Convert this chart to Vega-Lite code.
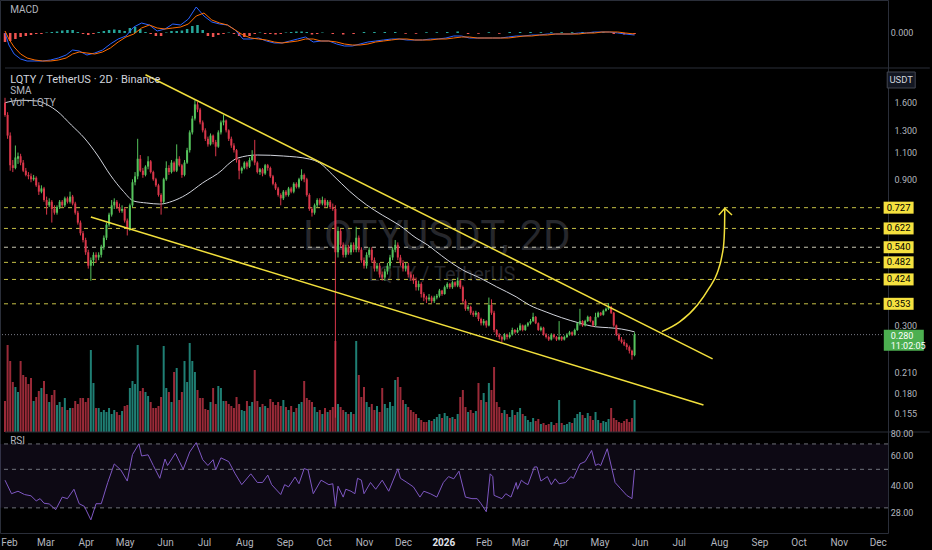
{
  "$schema": "https://vega.github.io/schema/vega-lite/v6.json",
  "width": 888,
  "height": 533,
  "autosize": {"type": "none"},
  "padding": {"left": 0, "top": 0, "right": 44, "bottom": 17},
  "background": "#000000",
  "config": {
    "font": "Roboto",
    "view": {"stroke": "#2a2e39"},
    "axis": {"grid": false},
    "axisX": {
      "tickCount": {"interval": "month", "step": 1},
      "labelExpr": "month(datum.value) == 0 ? timeFormat(datum.value, '%Y') : timeFormat(datum.value, '%b')",
      "labelColor": {"condition": {"test": "month(datum.value) == 0", "value": "#e0e3eb"}, "value": "#b2b5be"},
      "labelFontWeight": {"condition": {"test": "month(datum.value) == 0", "value": "bold"}, "value": "normal"},
      "labelFontSize": 10,
      "labelAlign": "center",
      "ticks": false,
      "domain": false,
      "labelPadding": 4,
      "labelOverlap": false,
      "labelFlush": false,
      "labelBound": false,
      "title": null
    }
  },
  "datasets": {
    "one": [{}],
    "candles": [
      {"d":"2025-01-29","o":1.60,"h":1.66,"l":1.44,"c":1.46,"v":31},
      {"d":"2025-01-31","o":1.46,"h":1.49,"l":1.22,"c":1.25,"v":87},
      {"d":"2025-02-02","o":1.25,"h":1.28,"l":0.96,"c":1.00,"v":71},
      {"d":"2025-02-04","o":1.00,"h":1.04,"l":0.95,"c":0.98,"v":50},
      {"d":"2025-02-06","o":0.98,"h":1.16,"l":0.97,"c":1.06,"v":45},
      {"d":"2025-02-08","o":1.05,"h":1.10,"l":1.01,"c":1.07,"v":40},
      {"d":"2025-02-10","o":1.07,"h":1.09,"l":1.00,"c":1.02,"v":71},
      {"d":"2025-02-12","o":1.02,"h":1.04,"l":0.95,"c":0.96,"v":57},
      {"d":"2025-02-14","o":0.96,"h":0.98,"l":0.92,"c":0.93,"v":55},
      {"d":"2025-02-16","o":0.93,"h":0.95,"l":0.90,"c":0.92,"v":48},
      {"d":"2025-02-18","o":0.92,"h":0.94,"l":0.88,"c":0.90,"v":54},
      {"d":"2025-02-20","o":0.90,"h":0.93,"l":0.89,"c":0.91,"v":31},
      {"d":"2025-02-22","o":0.91,"h":0.92,"l":0.85,"c":0.86,"v":35},
      {"d":"2025-02-24","o":0.86,"h":0.88,"l":0.80,"c":0.82,"v":41},
      {"d":"2025-02-26","o":0.82,"h":0.86,"l":0.81,"c":0.84,"v":44},
      {"d":"2025-02-28","o":0.84,"h":0.85,"l":0.76,"c":0.77,"v":51},
      {"d":"2025-03-02","o":0.77,"h":0.79,"l":0.69,"c":0.74,"v":38},
      {"d":"2025-03-04","o":0.74,"h":0.78,"l":0.73,"c":0.76,"v":30},
      {"d":"2025-03-06","o":0.76,"h":0.77,"l":0.65,"c":0.72,"v":37},
      {"d":"2025-03-08","o":0.72,"h":0.74,"l":0.69,"c":0.70,"v":42},
      {"d":"2025-03-10","o":0.70,"h":0.74,"l":0.69,"c":0.73,"v":27},
      {"d":"2025-03-12","o":0.73,"h":0.77,"l":0.72,"c":0.76,"v":30},
      {"d":"2025-03-14","o":0.76,"h":0.77,"l":0.73,"c":0.74,"v":25},
      {"d":"2025-03-16","o":0.74,"h":0.79,"l":0.73,"c":0.78,"v":34},
      {"d":"2025-03-18","o":0.78,"h":0.79,"l":0.75,"c":0.76,"v":22},
      {"d":"2025-03-20","o":0.76,"h":0.82,"l":0.75,"c":0.79,"v":24},
      {"d":"2025-03-22","o":0.79,"h":0.80,"l":0.74,"c":0.75,"v":24},
      {"d":"2025-03-24","o":0.75,"h":0.76,"l":0.69,"c":0.70,"v":31},
      {"d":"2025-03-26","o":0.70,"h":0.71,"l":0.64,"c":0.65,"v":28},
      {"d":"2025-03-28","o":0.65,"h":0.66,"l":0.59,"c":0.60,"v":34},
      {"d":"2025-03-30","o":0.60,"h":0.61,"l":0.56,"c":0.57,"v":34},
      {"d":"2025-04-01","o":0.57,"h":0.58,"l":0.51,"c":0.52,"v":30},
      {"d":"2025-04-03","o":0.52,"h":0.53,"l":0.46,"c":0.47,"v":34},
      {"d":"2025-04-05","o":0.47,"h":0.50,"l":0.42,"c":0.49,"v":82},
      {"d":"2025-04-07","o":0.49,"h":0.52,"l":0.47,"c":0.51,"v":49},
      {"d":"2025-04-09","o":0.51,"h":0.52,"l":0.48,"c":0.50,"v":24},
      {"d":"2025-04-11","o":0.50,"h":0.52,"l":0.49,"c":0.51,"v":24},
      {"d":"2025-04-13","o":0.51,"h":0.55,"l":0.50,"c":0.54,"v":20},
      {"d":"2025-04-15","o":0.54,"h":0.59,"l":0.53,"c":0.58,"v":22},
      {"d":"2025-04-17","o":0.58,"h":0.65,"l":0.57,"c":0.64,"v":20},
      {"d":"2025-04-19","o":0.64,"h":0.70,"l":0.63,"c":0.69,"v":24},
      {"d":"2025-04-21","o":0.69,"h":0.77,"l":0.68,"c":0.74,"v":18},
      {"d":"2025-04-23","o":0.74,"h":0.78,"l":0.72,"c":0.76,"v":22},
      {"d":"2025-04-25","o":0.76,"h":0.77,"l":0.72,"c":0.73,"v":20},
      {"d":"2025-04-27","o":0.73,"h":0.75,"l":0.70,"c":0.71,"v":17},
      {"d":"2025-04-29","o":0.71,"h":0.74,"l":0.70,"c":0.72,"v":21},
      {"d":"2025-05-01","o":0.72,"h":0.73,"l":0.65,"c":0.66,"v":26},
      {"d":"2025-05-03","o":0.66,"h":0.67,"l":0.59,"c":0.62,"v":27},
      {"d":"2025-05-05","o":0.62,"h":0.75,"l":0.61,"c":0.74,"v":44},
      {"d":"2025-05-07","o":0.74,"h":0.90,"l":0.73,"c":0.88,"v":51},
      {"d":"2025-05-09","o":0.88,"h":0.95,"l":0.86,"c":0.92,"v":48},
      {"d":"2025-05-11","o":0.92,"h":1.22,"l":0.90,"c":1.05,"v":87},
      {"d":"2025-05-13","o":1.05,"h":1.08,"l":0.95,"c":0.96,"v":41},
      {"d":"2025-05-15","o":0.96,"h":0.98,"l":0.91,"c":0.93,"v":44},
      {"d":"2025-05-17","o":0.93,"h":1.00,"l":0.92,"c":0.99,"v":40},
      {"d":"2025-05-19","o":0.99,"h":1.07,"l":0.97,"c":1.03,"v":36},
      {"d":"2025-05-21","o":1.03,"h":1.04,"l":0.94,"c":0.95,"v":30},
      {"d":"2025-05-23","o":0.95,"h":0.96,"l":0.89,"c":0.90,"v":24},
      {"d":"2025-05-25","o":0.90,"h":0.91,"l":0.85,"c":0.86,"v":24},
      {"d":"2025-05-27","o":0.86,"h":0.87,"l":0.79,"c":0.80,"v":26},
      {"d":"2025-05-29","o":0.80,"h":0.81,"l":0.69,"c":0.76,"v":35},
      {"d":"2025-05-31","o":0.76,"h":0.91,"l":0.75,"c":0.90,"v":86},
      {"d":"2025-06-02","o":0.90,"h":1.03,"l":0.89,"c":0.98,"v":44},
      {"d":"2025-06-04","o":0.98,"h":1.00,"l":0.93,"c":0.95,"v":40},
      {"d":"2025-06-06","o":0.95,"h":1.04,"l":0.94,"c":1.02,"v":30},
      {"d":"2025-06-08","o":1.02,"h":1.03,"l":0.95,"c":0.96,"v":60},
      {"d":"2025-06-10","o":0.96,"h":1.17,"l":0.95,"c":1.05,"v":64},
      {"d":"2025-06-12","o":1.05,"h":1.07,"l":0.99,"c":1.00,"v":32},
      {"d":"2025-06-14","o":1.00,"h":1.01,"l":0.91,"c":0.93,"v":40},
      {"d":"2025-06-16","o":0.93,"h":1.04,"l":0.92,"c":1.02,"v":71},
      {"d":"2025-06-18","o":1.02,"h":1.14,"l":1.01,"c":1.12,"v":50},
      {"d":"2025-06-20","o":1.12,"h":1.30,"l":1.10,"c":1.28,"v":89},
      {"d":"2025-06-22","o":1.28,"h":1.45,"l":1.26,"c":1.42,"v":71},
      {"d":"2025-06-24","o":1.42,"h":1.63,"l":1.40,"c":1.58,"v":60},
      {"d":"2025-06-26","o":1.58,"h":1.61,"l":1.49,"c":1.52,"v":42},
      {"d":"2025-06-28","o":1.52,"h":1.54,"l":1.36,"c":1.38,"v":34},
      {"d":"2025-06-30","o":1.38,"h":1.40,"l":1.28,"c":1.30,"v":34},
      {"d":"2025-07-02","o":1.30,"h":1.32,"l":1.20,"c":1.22,"v":23},
      {"d":"2025-07-04","o":1.22,"h":1.24,"l":1.15,"c":1.17,"v":22},
      {"d":"2025-07-06","o":1.17,"h":1.27,"l":1.16,"c":1.25,"v":30},
      {"d":"2025-07-08","o":1.25,"h":1.26,"l":1.17,"c":1.19,"v":44},
      {"d":"2025-07-10","o":1.19,"h":1.21,"l":1.07,"c":1.15,"v":28},
      {"d":"2025-07-12","o":1.15,"h":1.30,"l":1.14,"c":1.28,"v":46},
      {"d":"2025-07-14","o":1.28,"h":1.40,"l":1.26,"c":1.38,"v":44},
      {"d":"2025-07-16","o":1.38,"h":1.46,"l":1.35,"c":1.40,"v":31},
      {"d":"2025-07-18","o":1.40,"h":1.41,"l":1.28,"c":1.30,"v":31},
      {"d":"2025-07-20","o":1.30,"h":1.31,"l":1.20,"c":1.22,"v":28},
      {"d":"2025-07-22","o":1.22,"h":1.24,"l":1.14,"c":1.16,"v":26},
      {"d":"2025-07-24","o":1.16,"h":1.18,"l":1.10,"c":1.12,"v":24},
      {"d":"2025-07-26","o":1.12,"h":1.13,"l":1.02,"c":1.04,"v":35},
      {"d":"2025-07-28","o":1.04,"h":1.05,"l":0.90,"c":0.96,"v":28},
      {"d":"2025-07-30","o":0.96,"h":0.99,"l":0.94,"c":0.98,"v":22},
      {"d":"2025-08-01","o":0.98,"h":1.03,"l":0.97,"c":1.02,"v":21},
      {"d":"2025-08-03","o":1.02,"h":1.03,"l":0.97,"c":0.99,"v":31},
      {"d":"2025-08-05","o":0.99,"h":1.06,"l":0.98,"c":1.04,"v":26},
      {"d":"2025-08-07","o":1.04,"h":1.12,"l":1.03,"c":1.08,"v":30},
      {"d":"2025-08-09","o":1.08,"h":1.21,"l":1.00,"c":1.02,"v":62},
      {"d":"2025-08-11","o":1.02,"h":1.03,"l":0.94,"c":0.95,"v":31},
      {"d":"2025-08-13","o":0.95,"h":0.98,"l":0.93,"c":0.97,"v":25},
      {"d":"2025-08-15","o":0.97,"h":0.98,"l":0.92,"c":0.94,"v":28},
      {"d":"2025-08-17","o":0.94,"h":1.01,"l":0.93,"c":1.00,"v":26},
      {"d":"2025-08-19","o":1.00,"h":1.01,"l":0.96,"c":0.98,"v":24},
      {"d":"2025-08-21","o":0.98,"h":0.99,"l":0.91,"c":0.92,"v":33},
      {"d":"2025-08-23","o":0.92,"h":0.93,"l":0.86,"c":0.87,"v":30},
      {"d":"2025-08-25","o":0.87,"h":0.88,"l":0.83,"c":0.84,"v":27},
      {"d":"2025-08-27","o":0.84,"h":0.85,"l":0.79,"c":0.80,"v":30},
      {"d":"2025-08-29","o":0.80,"h":0.81,"l":0.74,"c":0.78,"v":26},
      {"d":"2025-08-31","o":0.78,"h":0.83,"l":0.77,"c":0.82,"v":32},
      {"d":"2025-09-02","o":0.82,"h":0.83,"l":0.79,"c":0.80,"v":25},
      {"d":"2025-09-04","o":0.80,"h":0.85,"l":0.79,"c":0.84,"v":22},
      {"d":"2025-09-06","o":0.84,"h":0.85,"l":0.81,"c":0.82,"v":26},
      {"d":"2025-09-08","o":0.82,"h":0.88,"l":0.81,"c":0.87,"v":20},
      {"d":"2025-09-10","o":0.87,"h":0.88,"l":0.84,"c":0.85,"v":24},
      {"d":"2025-09-12","o":0.85,"h":0.91,"l":0.84,"c":0.90,"v":28},
      {"d":"2025-09-14","o":0.90,"h":0.97,"l":0.89,"c":0.93,"v":30},
      {"d":"2025-09-16","o":0.93,"h":0.94,"l":0.88,"c":0.90,"v":51},
      {"d":"2025-09-18","o":0.90,"h":0.91,"l":0.79,"c":0.80,"v":34},
      {"d":"2025-09-20","o":0.80,"h":0.81,"l":0.71,"c":0.72,"v":32},
      {"d":"2025-09-22","o":0.72,"h":0.73,"l":0.68,"c":0.70,"v":30},
      {"d":"2025-09-24","o":0.70,"h":0.75,"l":0.69,"c":0.74,"v":25},
      {"d":"2025-09-26","o":0.74,"h":0.78,"l":0.73,"c":0.77,"v":20},
      {"d":"2025-09-28","o":0.77,"h":0.78,"l":0.74,"c":0.75,"v":22},
      {"d":"2025-09-30","o":0.75,"h":0.79,"l":0.74,"c":0.77,"v":18},
      {"d":"2025-10-02","o":0.77,"h":0.78,"l":0.73,"c":0.74,"v":24},
      {"d":"2025-10-04","o":0.74,"h":0.77,"l":0.73,"c":0.76,"v":20},
      {"d":"2025-10-06","o":0.76,"h":0.77,"l":0.72,"c":0.73,"v":22},
      {"d":"2025-10-08","o":0.73,"h":0.75,"l":0.71,"c":0.72,"v":25},
      {"d":"2025-10-10","o":0.72,"h":0.74,"l":0.15,"c":0.52,"v":91},
      {"d":"2025-10-12","o":0.52,"h":0.63,"l":0.50,"c":0.61,"v":28},
      {"d":"2025-10-14","o":0.61,"h":0.62,"l":0.54,"c":0.55,"v":25},
      {"d":"2025-10-16","o":0.55,"h":0.56,"l":0.50,"c":0.51,"v":22},
      {"d":"2025-10-18","o":0.51,"h":0.55,"l":0.50,"c":0.54,"v":20},
      {"d":"2025-10-20","o":0.54,"h":0.55,"l":0.51,"c":0.52,"v":18},
      {"d":"2025-10-22","o":0.52,"h":0.56,"l":0.51,"c":0.55,"v":20},
      {"d":"2025-10-24","o":0.55,"h":0.56,"l":0.52,"c":0.53,"v":18},
      {"d":"2025-10-26","o":0.53,"h":0.63,"l":0.52,"c":0.58,"v":91},
      {"d":"2025-10-28","o":0.58,"h":0.59,"l":0.52,"c":0.53,"v":57},
      {"d":"2025-10-30","o":0.53,"h":0.54,"l":0.48,"c":0.49,"v":35},
      {"d":"2025-11-01","o":0.49,"h":0.50,"l":0.46,"c":0.47,"v":45},
      {"d":"2025-11-03","o":0.47,"h":0.52,"l":0.46,"c":0.51,"v":30},
      {"d":"2025-11-05","o":0.51,"h":0.54,"l":0.50,"c":0.53,"v":25},
      {"d":"2025-11-07","o":0.53,"h":0.54,"l":0.48,"c":0.49,"v":28},
      {"d":"2025-11-09","o":0.49,"h":0.50,"l":0.45,"c":0.46,"v":22},
      {"d":"2025-11-11","o":0.46,"h":0.48,"l":0.45,"c":0.47,"v":26},
      {"d":"2025-11-13","o":0.47,"h":0.48,"l":0.43,"c":0.44,"v":20},
      {"d":"2025-11-15","o":0.44,"h":0.45,"l":0.42,"c":0.43,"v":44},
      {"d":"2025-11-17","o":0.43,"h":0.46,"l":0.42,"c":0.45,"v":28},
      {"d":"2025-11-19","o":0.45,"h":0.48,"l":0.44,"c":0.47,"v":24},
      {"d":"2025-11-21","o":0.47,"h":0.51,"l":0.46,"c":0.50,"v":30},
      {"d":"2025-11-23","o":0.50,"h":0.54,"l":0.49,"c":0.53,"v":26},
      {"d":"2025-11-25","o":0.53,"h":0.57,"l":0.52,"c":0.55,"v":52},
      {"d":"2025-11-27","o":0.55,"h":0.56,"l":0.49,"c":0.50,"v":55},
      {"d":"2025-11-29","o":0.50,"h":0.51,"l":0.47,"c":0.48,"v":45},
      {"d":"2025-12-01","o":0.48,"h":0.49,"l":0.45,"c":0.46,"v":32},
      {"d":"2025-12-03","o":0.46,"h":0.48,"l":0.45,"c":0.47,"v":28},
      {"d":"2025-12-05","o":0.47,"h":0.48,"l":0.43,"c":0.44,"v":25},
      {"d":"2025-12-07","o":0.44,"h":0.45,"l":0.42,"c":0.43,"v":22},
      {"d":"2025-12-09","o":0.43,"h":0.44,"l":0.41,"c":0.42,"v":20},
      {"d":"2025-12-11","o":0.42,"h":0.43,"l":0.39,"c":0.40,"v":18},
      {"d":"2025-12-13","o":0.40,"h":0.42,"l":0.39,"c":0.41,"v":14},
      {"d":"2025-12-15","o":0.41,"h":0.415,"l":0.37,"c":0.38,"v":12},
      {"d":"2025-12-17","o":0.38,"h":0.385,"l":0.36,"c":0.37,"v":10},
      {"d":"2025-12-19","o":0.37,"h":0.375,"l":0.355,"c":0.365,"v":10},
      {"d":"2025-12-21","o":0.365,"h":0.38,"l":0.36,"c":0.37,"v":12},
      {"d":"2025-12-23","o":0.37,"h":0.375,"l":0.355,"c":0.36,"v":11},
      {"d":"2025-12-25","o":0.36,"h":0.375,"l":0.355,"c":0.37,"v":13},
      {"d":"2025-12-27","o":0.37,"h":0.38,"l":0.365,"c":0.375,"v":15},
      {"d":"2025-12-29","o":0.375,"h":0.395,"l":0.37,"c":0.39,"v":18},
      {"d":"2025-12-31","o":0.39,"h":0.392,"l":0.375,"c":0.38,"v":14},
      {"d":"2026-01-02","o":0.38,"h":0.405,"l":0.378,"c":0.40,"v":19},
      {"d":"2026-01-04","o":0.40,"h":0.415,"l":0.395,"c":0.41,"v":16},
      {"d":"2026-01-06","o":0.41,"h":0.413,"l":0.395,"c":0.40,"v":14},
      {"d":"2026-01-08","o":0.40,"h":0.42,"l":0.395,"c":0.415,"v":15},
      {"d":"2026-01-10","o":0.415,"h":0.418,"l":0.40,"c":0.405,"v":13},
      {"d":"2026-01-12","o":0.405,"h":0.43,"l":0.40,"c":0.42,"v":18},
      {"d":"2026-01-14","o":0.42,"h":0.422,"l":0.395,"c":0.40,"v":35},
      {"d":"2026-01-16","o":0.40,"h":0.405,"l":0.355,"c":0.36,"v":42},
      {"d":"2026-01-18","o":0.36,"h":0.365,"l":0.335,"c":0.34,"v":25},
      {"d":"2026-01-20","o":0.34,"h":0.35,"l":0.335,"c":0.345,"v":20},
      {"d":"2026-01-22","o":0.345,"h":0.348,"l":0.325,"c":0.33,"v":22},
      {"d":"2026-01-24","o":0.33,"h":0.335,"l":0.32,"c":0.325,"v":19},
      {"d":"2026-01-26","o":0.325,"h":0.335,"l":0.32,"c":0.33,"v":21},
      {"d":"2026-01-28","o":0.33,"h":0.332,"l":0.31,"c":0.315,"v":49},
      {"d":"2026-01-30","o":0.315,"h":0.318,"l":0.30,"c":0.305,"v":32},
      {"d":"2026-02-01","o":0.305,"h":0.315,"l":0.30,"c":0.31,"v":39},
      {"d":"2026-02-03","o":0.31,"h":0.312,"l":0.295,"c":0.30,"v":30},
      {"d":"2026-02-05","o":0.30,"h":0.37,"l":0.298,"c":0.35,"v":49},
      {"d":"2026-02-07","o":0.35,"h":0.365,"l":0.325,"c":0.33,"v":42},
      {"d":"2026-02-09","o":0.33,"h":0.335,"l":0.285,"c":0.29,"v":65},
      {"d":"2026-02-11","o":0.29,"h":0.292,"l":0.275,"c":0.28,"v":30},
      {"d":"2026-02-13","o":0.28,"h":0.283,"l":0.27,"c":0.275,"v":25},
      {"d":"2026-02-15","o":0.275,"h":0.278,"l":0.265,"c":0.27,"v":19},
      {"d":"2026-02-17","o":0.27,"h":0.283,"l":0.268,"c":0.28,"v":22},
      {"d":"2026-02-19","o":0.28,"h":0.282,"l":0.27,"c":0.275,"v":18},
      {"d":"2026-02-21","o":0.275,"h":0.285,"l":0.272,"c":0.28,"v":15},
      {"d":"2026-02-23","o":0.28,"h":0.295,"l":0.278,"c":0.29,"v":22},
      {"d":"2026-02-25","o":0.29,"h":0.292,"l":0.282,"c":0.285,"v":17},
      {"d":"2026-02-27","o":0.285,"h":0.295,"l":0.283,"c":0.29,"v":20},
      {"d":"2026-03-01","o":0.29,"h":0.305,"l":0.288,"c":0.30,"v":24},
      {"d":"2026-03-03","o":0.30,"h":0.302,"l":0.287,"c":0.29,"v":18},
      {"d":"2026-03-05","o":0.29,"h":0.302,"l":0.288,"c":0.30,"v":16},
      {"d":"2026-03-07","o":0.30,"h":0.308,"l":0.297,"c":0.305,"v":12},
      {"d":"2026-03-09","o":0.305,"h":0.315,"l":0.302,"c":0.31,"v":10},
      {"d":"2026-03-11","o":0.31,"h":0.33,"l":0.308,"c":0.32,"v":14},
      {"d":"2026-03-13","o":0.32,"h":0.322,"l":0.303,"c":0.305,"v":11},
      {"d":"2026-03-15","o":0.305,"h":0.307,"l":0.288,"c":0.29,"v":13},
      {"d":"2026-03-17","o":0.29,"h":0.298,"l":0.287,"c":0.295,"v":8},
      {"d":"2026-03-19","o":0.295,"h":0.297,"l":0.278,"c":0.28,"v":9},
      {"d":"2026-03-21","o":0.28,"h":0.283,"l":0.272,"c":0.275,"v":7},
      {"d":"2026-03-23","o":0.275,"h":0.278,"l":0.267,"c":0.27,"v":8},
      {"d":"2026-03-25","o":0.27,"h":0.283,"l":0.268,"c":0.28,"v":10},
      {"d":"2026-03-27","o":0.28,"h":0.282,"l":0.272,"c":0.275,"v":7},
      {"d":"2026-03-29","o":0.275,"h":0.277,"l":0.267,"c":0.27,"v":9},
      {"d":"2026-03-31","o":0.27,"h":0.31,"l":0.268,"c":0.275,"v":32},
      {"d":"2026-04-02","o":0.275,"h":0.277,"l":0.267,"c":0.27,"v":9},
      {"d":"2026-04-04","o":0.27,"h":0.278,"l":0.268,"c":0.275,"v":7},
      {"d":"2026-04-06","o":0.275,"h":0.283,"l":0.273,"c":0.28,"v":8},
      {"d":"2026-04-08","o":0.28,"h":0.288,"l":0.278,"c":0.285,"v":10},
      {"d":"2026-04-10","o":0.285,"h":0.287,"l":0.277,"c":0.28,"v":9},
      {"d":"2026-04-12","o":0.28,"h":0.293,"l":0.278,"c":0.29,"v":14},
      {"d":"2026-04-14","o":0.29,"h":0.307,"l":0.288,"c":0.305,"v":18},
      {"d":"2026-04-16","o":0.305,"h":0.34,"l":0.30,"c":0.31,"v":20},
      {"d":"2026-04-18","o":0.31,"h":0.312,"l":0.297,"c":0.30,"v":17},
      {"d":"2026-04-20","o":0.30,"h":0.313,"l":0.298,"c":0.31,"v":14},
      {"d":"2026-04-22","o":0.31,"h":0.323,"l":0.308,"c":0.32,"v":19},
      {"d":"2026-04-24","o":0.32,"h":0.322,"l":0.307,"c":0.31,"v":16},
      {"d":"2026-04-26","o":0.31,"h":0.312,"l":0.297,"c":0.30,"v":12},
      {"d":"2026-04-28","o":0.30,"h":0.33,"l":0.298,"c":0.32,"v":20},
      {"d":"2026-04-30","o":0.32,"h":0.333,"l":0.318,"c":0.33,"v":12},
      {"d":"2026-05-02","o":0.33,"h":0.332,"l":0.322,"c":0.325,"v":9},
      {"d":"2026-05-04","o":0.325,"h":0.338,"l":0.323,"c":0.335,"v":11},
      {"d":"2026-05-06","o":0.335,"h":0.343,"l":0.333,"c":0.34,"v":10},
      {"d":"2026-05-08","o":0.34,"h":0.355,"l":0.337,"c":0.345,"v":13},
      {"d":"2026-05-10","o":0.345,"h":0.347,"l":0.327,"c":0.33,"v":24},
      {"d":"2026-05-12","o":0.33,"h":0.332,"l":0.297,"c":0.30,"v":14},
      {"d":"2026-05-14","o":0.30,"h":0.302,"l":0.277,"c":0.28,"v":12},
      {"d":"2026-05-16","o":0.28,"h":0.283,"l":0.267,"c":0.27,"v":10},
      {"d":"2026-05-18","o":0.27,"h":0.275,"l":0.262,"c":0.265,"v":9},
      {"d":"2026-05-20","o":0.265,"h":0.27,"l":0.257,"c":0.26,"v":11},
      {"d":"2026-05-22","o":0.26,"h":0.263,"l":0.25,"c":0.255,"v":13},
      {"d":"2026-05-24","o":0.255,"h":0.258,"l":0.243,"c":0.248,"v":10},
      {"d":"2026-05-26","o":0.248,"h":0.25,"l":0.232,"c":0.24,"v":14},
      {"d":"2026-05-28","o":0.24,"h":0.285,"l":0.238,"c":0.28,"v":32}
    ],
    "sma": [
      {"d":"2025-01-29","p":1.60},{"d":"2025-02-10","p":1.63},{"d":"2025-02-23","p":1.62},{"d":"2025-03-03","p":1.572},
      {"d":"2025-03-10","p":1.503},{"d":"2025-03-21","p":1.353},{"d":"2025-03-31","p":1.227},
      {"d":"2025-04-10","p":1.080},{"d":"2025-04-20","p":0.929},{"d":"2025-04-30","p":0.822},
      {"d":"2025-05-08","p":0.764},{"d":"2025-05-18","p":0.753},{"d":"2025-05-28","p":0.747},
      {"d":"2025-06-07","p":0.764},{"d":"2025-06-17","p":0.800},{"d":"2025-06-30","p":0.876},
      {"d":"2025-07-15","p":0.965},{"d":"2025-07-19","p":1.002},{"d":"2025-07-27","p":1.056},
      {"d":"2025-08-11","p":1.080},{"d":"2025-08-31","p":1.072},{"d":"2025-09-20","p":1.048},
      {"d":"2025-09-28","p":1.017},{"d":"2025-10-08","p":0.929},{"d":"2025-10-21","p":0.822},
      {"d":"2025-11-03","p":0.742},{"d":"2025-11-15","p":0.688},{"d":"2025-11-28","p":0.638},
      {"d":"2025-12-11","p":0.579},{"d":"2025-12-20","p":0.549},{"d":"2025-12-26","p":0.525},
      {"d":"2026-01-04","p":0.491},{"d":"2026-01-16","p":0.455},{"d":"2026-01-29","p":0.429},
      {"d":"2026-02-11","p":0.401},{"d":"2026-02-26","p":0.372},{"d":"2026-03-08","p":0.350},
      {"d":"2026-03-21","p":0.332},{"d":"2026-04-02","p":0.318},{"d":"2026-04-15","p":0.306},
      {"d":"2026-04-28","p":0.297},{"d":"2026-05-08","p":0.295},{"d":"2026-05-18","p":0.292},
      {"d":"2026-05-28","p":0.286}
    ],
    "rsi": [
      {"d":"2025-01-29","r":43.3},{"d":"2025-02-03","r":36.2},{"d":"2025-02-08","r":37.4},
      {"d":"2025-02-13","r":35.8},{"d":"2025-02-18","r":35.2},{"d":"2025-02-22","r":32.9},
      {"d":"2025-02-25","r":33.9},{"d":"2025-02-28","r":31.9},{"d":"2025-03-04","r":31.6},
      {"d":"2025-03-09","r":29.3},{"d":"2025-03-14","r":34.6},{"d":"2025-03-18","r":33.9},
      {"d":"2025-03-23","r":38.4},{"d":"2025-03-27","r":31.7},{"d":"2025-03-31","r":30.6},
      {"d":"2025-04-05","r":25.6},{"d":"2025-04-09","r":31.7},{"d":"2025-04-13","r":31.7},
      {"d":"2025-04-18","r":42.0},{"d":"2025-04-23","r":53.7},{"d":"2025-04-28","r":49.6},
      {"d":"2025-05-03","r":42.8},{"d":"2025-05-07","r":60.8},{"d":"2025-05-12","r":70.2},
      {"d":"2025-05-14","r":59.7},{"d":"2025-05-19","r":60.6},{"d":"2025-05-23","r":52.6},
      {"d":"2025-05-28","r":44.4},{"d":"2025-06-01","r":57.3},{"d":"2025-06-03","r":52.6},
      {"d":"2025-06-09","r":61.9},{"d":"2025-06-15","r":50.0},{"d":"2025-06-20","r":62.9},
      {"d":"2025-06-25","r":71.2},{"d":"2025-06-30","r":56.8},{"d":"2025-07-04","r":52.6},
      {"d":"2025-07-08","r":56.8},{"d":"2025-07-10","r":49.6},{"d":"2025-07-14","r":58.2},
      {"d":"2025-07-20","r":55.4},{"d":"2025-07-25","r":47.1},{"d":"2025-07-30","r":40.8},
      {"d":"2025-08-06","r":47.1},{"d":"2025-08-11","r":42.0},{"d":"2025-08-15","r":42.0},
      {"d":"2025-08-19","r":46.3},{"d":"2025-08-22","r":40.8},{"d":"2025-08-29","r":35.8},
      {"d":"2025-09-01","r":40.8},{"d":"2025-09-04","r":39.6},{"d":"2025-09-09","r":45.1},
      {"d":"2025-09-12","r":41.3},{"d":"2025-09-16","r":50.5},{"d":"2025-09-19","r":49.6},
      {"d":"2025-09-23","r":36.2},{"d":"2025-09-29","r":43.3},{"d":"2025-10-05","r":40.8},
      {"d":"2025-10-08","r":41.3},{"d":"2025-10-10","r":30.6},{"d":"2025-10-12","r":40.0},
      {"d":"2025-10-16","r":34.6},{"d":"2025-10-18","r":38.4},{"d":"2025-10-22","r":37.4},
      {"d":"2025-10-25","r":36.2},{"d":"2025-10-27","r":44.4},{"d":"2025-10-30","r":43.3},
      {"d":"2025-11-01","r":36.2},{"d":"2025-11-06","r":42.0},{"d":"2025-11-10","r":38.4},
      {"d":"2025-11-15","r":43.3},{"d":"2025-11-20","r":37.4},{"d":"2025-11-27","r":50.3},
      {"d":"2025-11-29","r":44.4},{"d":"2025-12-04","r":42.0},{"d":"2025-12-09","r":39.6},
      {"d":"2025-12-14","r":34.6},{"d":"2025-12-17","r":37.4},{"d":"2025-12-22","r":36.2},
      {"d":"2025-12-27","r":34.6},{"d":"2026-01-01","r":42.0},{"d":"2026-01-05","r":45.4},
      {"d":"2026-01-09","r":44.1},{"d":"2026-01-13","r":48.8},{"d":"2026-01-18","r":34.6},
      {"d":"2026-01-23","r":33.9},{"d":"2026-01-27","r":33.9},{"d":"2026-01-30","r":31.7},
      {"d":"2026-02-03","r":28.5},{"d":"2026-02-06","r":47.1},{"d":"2026-02-08","r":45.4},
      {"d":"2026-02-09","r":35.4},{"d":"2026-02-15","r":33.9},{"d":"2026-02-18","r":36.2},
      {"d":"2026-02-22","r":34.6},{"d":"2026-02-26","r":42.0},{"d":"2026-02-27","r":38.4},
      {"d":"2026-03-02","r":43.3},{"d":"2026-03-04","r":42.0},{"d":"2026-03-07","r":40.8},
      {"d":"2026-03-12","r":51.6},{"d":"2026-03-14","r":51.6},{"d":"2026-03-17","r":42.8},
      {"d":"2026-03-22","r":45.4},{"d":"2026-03-25","r":40.8},{"d":"2026-03-28","r":44.1},
      {"d":"2026-03-31","r":41.3},{"d":"2026-04-05","r":42.0},{"d":"2026-04-09","r":45.4},
      {"d":"2026-04-11","r":44.4},{"d":"2026-04-16","r":53.7},{"d":"2026-04-20","r":55.4},
      {"d":"2026-04-25","r":64.2},{"d":"2026-04-28","r":52.6},{"d":"2026-04-30","r":53.7},
      {"d":"2026-05-02","r":52.6},{"d":"2026-05-07","r":65.7},{"d":"2026-05-13","r":42.0},
      {"d":"2026-05-17","r":38.9},{"d":"2026-05-22","r":35.4},{"d":"2026-05-26","r":33.9},
      {"d":"2026-05-28","r":49.6}
    ],
    "macd": [
      {"d":"2025-01-29","m":0,"s":2},{"d":"2025-02-01","m":-12,"s":-6},{"d":"2025-02-05","m":-21,"s":-14},
      {"d":"2025-02-10","m":-26,"s":-21},{"d":"2025-02-15","m":-28,"s":-25},{"d":"2025-02-21","m":-28,"s":-27},
      {"d":"2025-02-27","m":-28,"s":-28},{"d":"2025-03-05","m":-27,"s":-28},{"d":"2025-03-11","m":-25,"s":-27},
      {"d":"2025-03-17","m":-22,"s":-25},{"d":"2025-03-22","m":-17,"s":-21},{"d":"2025-03-27","m":-18,"s":-19},
      {"d":"2025-04-02","m":-22,"s":-20},{"d":"2025-04-08","m":-20,"s":-21},{"d":"2025-04-14","m":-17,"s":-19},
      {"d":"2025-04-20","m":-11,"s":-15},{"d":"2025-04-26","m":-6,"s":-9},{"d":"2025-05-02","m":-3,"s":-4},
      {"d":"2025-05-08","m":6,"s":-1},{"d":"2025-05-14","m":10,"s":5},{"d":"2025-05-20","m":8,"s":8},
      {"d":"2025-05-26","m":2,"s":5},{"d":"2025-06-01","m":4,"s":4},{"d":"2025-06-07","m":9,"s":5},
      {"d":"2025-06-13","m":8,"s":6},{"d":"2025-06-19","m":14,"s":9},{"d":"2025-06-25","m":26,"s":17},
      {"d":"2025-07-01","m":17,"s":20},{"d":"2025-07-07","m":11,"s":13},{"d":"2025-07-13","m":9,"s":10},
      {"d":"2025-07-19","m":8,"s":8},{"d":"2025-07-25","m":3,"s":3},{"d":"2025-07-31","m":-6,"s":-2},
      {"d":"2025-08-06","m":-6,"s":-5},{"d":"2025-08-12","m":-5,"s":-6},{"d":"2025-08-18","m":-8,"s":-7},
      {"d":"2025-08-24","m":-10,"s":-9},{"d":"2025-08-30","m":-10,"s":-10},{"d":"2025-09-05","m":-8,"s":-9},
      {"d":"2025-09-11","m":-6,"s":-8},{"d":"2025-09-17","m":-4,"s":-6},{"d":"2025-09-23","m":-9,"s":-6},
      {"d":"2025-09-29","m":-8,"s":-8},{"d":"2025-10-05","m":-8,"s":-8},{"d":"2025-10-11","m":-11,"s":-9},
      {"d":"2025-10-17","m":-13,"s":-11},{"d":"2025-10-23","m":-13,"s":-12},{"d":"2025-10-29","m":-11,"s":-12},
      {"d":"2025-11-04","m":-9,"s":-11},{"d":"2025-11-10","m":-8,"s":-9},{"d":"2025-11-16","m":-7,"s":-8},
      {"d":"2025-11-22","m":-6,"s":-7},{"d":"2025-11-28","m":-6,"s":-6},{"d":"2025-12-04","m":-7,"s":-6},
      {"d":"2025-12-10","m":-7,"s":-7},{"d":"2025-12-16","m":-7,"s":-7},{"d":"2025-12-22","m":-6,"s":-7},
      {"d":"2025-12-28","m":-6,"s":-6},{"d":"2026-01-03","m":-5,"s":-6},{"d":"2026-01-09","m":-3,"s":-5},
      {"d":"2026-01-15","m":-3,"s":-4},{"d":"2026-01-21","m":-5,"s":-4},{"d":"2026-01-27","m":-5,"s":-5},
      {"d":"2026-02-02","m":-5,"s":-5},{"d":"2026-02-08","m":-5,"s":-5},{"d":"2026-02-14","m":-5,"s":-5},
      {"d":"2026-02-20","m":-4,"s":-5},{"d":"2026-02-26","m":-3,"s":-4},{"d":"2026-03-04","m":-3,"s":-3},
      {"d":"2026-03-10","m":-2,"s":-3},{"d":"2026-03-16","m":-2,"s":-2},{"d":"2026-03-22","m":-1,"s":-2},
      {"d":"2026-03-28","m":-1,"s":-1},{"d":"2026-04-03","m":-1,"s":-1},{"d":"2026-04-09","m":-1,"s":-1},
      {"d":"2026-04-15","m":0,"s":-1},{"d":"2026-04-21","m":0,"s":0},{"d":"2026-04-27","m":1,"s":0},
      {"d":"2026-05-03","m":1,"s":1},{"d":"2026-05-09","m":1,"s":1},{"d":"2026-05-15","m":0,"s":1},
      {"d":"2026-05-21","m":-1,"s":0},{"d":"2026-05-28","m":-2,"s":-1}
    ],
    "hist": [
      {"d":"2025-01-29","h":-9},{"d":"2025-02-02","h":-8},{"d":"2025-02-06","h":-6},{"d":"2025-02-10","h":-4},
      {"d":"2025-02-14","h":-3},{"d":"2025-02-18","h":-2},{"d":"2025-02-22","h":-1},{"d":"2025-02-26","h":-1},
      {"d":"2025-03-02","h":0.5},{"d":"2025-03-06","h":1},{"d":"2025-03-10","h":1.5},{"d":"2025-03-14","h":2.5},
      {"d":"2025-03-18","h":3},{"d":"2025-03-22","h":3},{"d":"2025-03-26","h":1},{"d":"2025-03-30","h":-1},
      {"d":"2025-04-03","h":-2},{"d":"2025-04-07","h":-1},{"d":"2025-04-11","h":1},{"d":"2025-04-15","h":2},
      {"d":"2025-04-19","h":3},{"d":"2025-04-23","h":3.5},{"d":"2025-04-27","h":3},{"d":"2025-05-01","h":2},
      {"d":"2025-05-05","h":5},{"d":"2025-05-09","h":6},{"d":"2025-05-13","h":4},{"d":"2025-05-17","h":1},
      {"d":"2025-05-21","h":-1},{"d":"2025-05-25","h":-3},{"d":"2025-05-29","h":-3},{"d":"2025-06-02","h":0.5},
      {"d":"2025-06-06","h":2},{"d":"2025-06-10","h":2},{"d":"2025-06-14","h":2.5},{"d":"2025-06-18","h":4},
      {"d":"2025-06-22","h":7},{"d":"2025-06-26","h":8},{"d":"2025-06-30","h":3},{"d":"2025-07-04","h":-3},
      {"d":"2025-07-08","h":-4},{"d":"2025-07-12","h":-2},{"d":"2025-07-16","h":-1},{"d":"2025-07-20","h":0.5},
      {"d":"2025-07-24","h":-1},{"d":"2025-07-28","h":-3},{"d":"2025-08-01","h":-4},{"d":"2025-08-05","h":-3},
      {"d":"2025-08-09","h":-1},{"d":"2025-08-13","h":0.5},{"d":"2025-08-17","h":-1},{"d":"2025-08-21","h":-1},
      {"d":"2025-08-25","h":-1.5},{"d":"2025-08-29","h":-1},{"d":"2025-09-02","h":0.5},{"d":"2025-09-06","h":1},
      {"d":"2025-09-10","h":1.5},{"d":"2025-09-14","h":1.5},{"d":"2025-09-18","h":1},{"d":"2025-09-22","h":-1.5},
      {"d":"2025-09-26","h":-1},{"d":"2025-09-30","h":0.5},{"d":"2025-10-08","h":-1},{"d":"2025-10-16","h":-1.5},
      {"d":"2025-10-24","h":-1},{"d":"2025-11-01","h":1},{"d":"2025-11-09","h":1},{"d":"2025-11-17","h":1},
      {"d":"2025-11-25","h":1},{"d":"2025-12-03","h":-0.8},{"d":"2025-12-11","h":-0.8},{"d":"2025-12-19","h":0.8},
      {"d":"2025-12-27","h":0.8},{"d":"2026-01-04","h":1},{"d":"2026-01-12","h":1.5},{"d":"2026-01-20","h":-1},
      {"d":"2026-01-28","h":-0.8},{"d":"2026-02-05","h":0.8},{"d":"2026-02-13","h":-0.8},{"d":"2026-02-21","h":1},
      {"d":"2026-03-01","h":1},{"d":"2026-03-09","h":1},{"d":"2026-03-17","h":0.8},{"d":"2026-03-25","h":0.8},
      {"d":"2026-04-02","h":0.8},{"d":"2026-04-10","h":0.8},{"d":"2026-04-18","h":1},{"d":"2026-04-26","h":1},
      {"d":"2026-05-04","h":0.8},{"d":"2026-05-12","h":-1},{"d":"2026-05-20","h":-1.5},{"d":"2026-05-28","h":-1}
    ],
    "levels": [
      {"p":0.727,"t":"0.727"},{"p":0.622,"t":"0.622"},{"p":0.540,"t":"0.540"},
      {"p":0.482,"t":"0.482"},{"p":0.424,"t":"0.424"},{"p":0.353,"t":"0.353"}
    ],
    "trend": [
      {"g":"upper","d":"2025-05-17","p":1.974},{"g":"upper","d":"2026-07-27","p":0.2333},
      {"g":"lower","d":"2025-04-05","p":0.678},{"g":"lower","d":"2026-07-20","p":0.1651}
    ],
    "arrow": [
      {"g":"curve","d":"2026-06-18T00:00:00Z","p":0.2864},
      {"g":"curve","d":"2026-07-01T15:00:00Z","p":0.308},
      {"g":"curve","d":"2026-07-15T08:00:00Z","p":0.350},
      {"g":"curve","d":"2026-07-24T10:00:00Z","p":0.3976},
      {"g":"curve","d":"2026-07-30T13:00:00Z","p":0.4451},
      {"g":"curve","d":"2026-08-03T08:00:00Z","p":0.5096},
      {"g":"curve","d":"2026-08-04T15:00:00Z","p":0.5576},
      {"g":"curve","d":"2026-08-05T05:30:00Z","p":0.6384},
      {"g":"curve","d":"2026-08-05T09:00:00Z","p":0.7237},
      {"g":"head","d":"2026-07-31T19:00:00Z","p":0.688},
      {"g":"head","d":"2026-08-05T09:00:00Z","p":0.7237},
      {"g":"head","d":"2026-08-10T22:00:00Z","p":0.688}
    ]
  },
  "layer": [
    {
      "layer": [
        {
          "data": {"name": "hist"},
          "mark": {"type": "bar", "width": 2.5},
          "encoding": {
            "x": {"field": "d", "type": "temporal", "title": null, "scale": {"domain": [{"year": 2025, "month": 1, "date": 29, "utc": true}, {"year": 2026, "month": 12, "date": 5, "utc": true}]}},
            "y": {"field": "h", "type": "quantitative", "scale": {"domain": [-35, 33], "range": [68, 0], "zero": false, "nice": false}, "axis": null},
            "y2": {"datum": 0},
            "color": {"condition": {"test": "datum.h >= 0", "value": "#26a69a"}, "value": "#ef5350"}
          }
        },
        {
          "data": {"name": "macd"},
          "mark": {"type": "line", "color": "#2962ff", "strokeWidth": 1},
          "encoding": {
            "x": {"field": "d", "type": "temporal", "title": null},
            "y": {"field": "m", "type": "quantitative", "axis": null}
          }
        },
        {
          "data": {"name": "macd"},
          "mark": {"type": "line", "color": "#ff6d00", "strokeWidth": 1},
          "encoding": {
            "x": {"field": "d", "type": "temporal", "title": null},
            "y": {"field": "s", "type": "quantitative", "axis": null}
          }
        },
        {
          "data": {"name": "one"},
          "mark": {"type": "text", "text": "MACD", "align": "left", "baseline": "middle", "color": "#b2b5be", "fontSize": 10},
          "encoding": {
            "x": {"datum": {"year": 2025, "month": 2, "date": 2, "utc": true}, "type": "temporal"},
            "y": {"datum": 23, "type": "quantitative", "axis": null}
          }
        },
        {
          "data": {"name": "one"},
          "mark": {"type": "text", "text": "0.000", "align": "left", "baseline": "middle", "color": "#b2b5be", "fontSize": 9},
          "encoding": {
            "x": {"datum": {"year": 2026, "month": 12, "date": 11, "utc": true}, "type": "temporal"},
            "y": {"datum": 0, "type": "quantitative", "axis": null}
          }
        }
      ]
    },
    {
      "data": {"name": "candles"},
      "mark": {"type": "bar", "width": 2},
      "encoding": {
        "x": {"field": "d", "type": "temporal", "title": null},
        "y": {"field": "v", "type": "quantitative", "scale": {"domain": [0, 364], "range": [432, 68], "nice": false}, "axis": null},
        "color": {"condition": {"test": "datum.c >= datum.o", "value": "#1f7f74"}, "value": "#9a2a38"}
      }
    },
    {
      "layer": [
        {
          "data": {"name": "one"},
          "mark": {"type": "text", "text": "LQTYUSDT, 2D", "align": "center", "baseline": "middle", "fontSize": 42, "color": "#26272c"},
          "encoding": {
            "x": {"datum": {"year": 2025, "month": 12, "date": 27, "utc": true}, "type": "temporal"},
            "y": {"datum": 0.585, "type": "quantitative", "scale": {"type": "log", "domain": [0.1347, 2.077], "range": [432, 68], "nice": false},
              "axis": {"orient": "right", "values": [1.6, 1.3, 1.1, 0.9, 0.3, 0.21, 0.18, 0.155], "format": ".3f", "labelColor": "#b2b5be", "labelFontSize": 9, "ticks": false, "domain": false, "labelPadding": 6, "labelOverlap": false, "title": null}}
          }
        },
        {
          "data": {"name": "one"},
          "mark": {"type": "text", "text": "LQTY / TetherUS", "align": "center", "baseline": "middle", "fontSize": 20, "color": "#26272c"},
          "encoding": {
            "x": {"datum": {"year": 2025, "month": 12, "date": 31, "utc": true}, "type": "temporal"},
            "y": {"datum": 0.438, "type": "quantitative"}
          }
        },
        {
          "data": {"name": "levels"},
          "mark": {"type": "rule", "strokeDash": [4, 4], "strokeWidth": 1},
          "encoding": {
            "y": {"field": "p", "type": "quantitative"},
            "color": {"condition": {"test": "datum.p == 0.54", "value": "#c9c8b4"}, "value": "#c6c046"}
          }
        },
        {
          "data": {"name": "one"},
          "mark": {"type": "rule", "color": "#787b86", "strokeDash": [1, 2], "strokeWidth": 1},
          "encoding": {"y": {"datum": 0.28, "type": "quantitative"}}
        },
        {
          "data": {"values": [{"p": 2.077}, {"p": 0.1347}]},
          "mark": {"type": "rule", "color": "#2a2e39", "strokeWidth": 1},
          "encoding": {
            "x": {"datum": {"year": 2025, "month": 1, "date": 29, "utc": true}, "type": "temporal"},
            "x2": {"datum": {"year": 2027, "month": 1, "date": 10, "utc": true}},
            "y": {"field": "p", "type": "quantitative"}
          }
        },
        {
          "data": {"name": "sma"},
          "mark": {"type": "line", "color": "#d1d4dc", "strokeWidth": 1, "interpolate": "monotone"},
          "encoding": {
            "x": {"field": "d", "type": "temporal", "title": null},
            "y": {"field": "p", "type": "quantitative"}
          }
        },
        {
          "data": {"name": "candles"},
          "mark": {"type": "rule", "strokeWidth": 1},
          "encoding": {
            "x": {"field": "d", "type": "temporal", "title": null},
            "y": {"field": "l", "type": "quantitative"},
            "y2": {"field": "h"},
            "color": {"condition": {"test": "datum.c >= datum.o", "value": "#55c35c"}, "value": "#d9364a"}
          }
        },
        {
          "data": {"name": "candles"},
          "mark": {"type": "bar", "width": 2},
          "encoding": {
            "x": {"field": "d", "type": "temporal", "title": null},
            "y": {"field": "o", "type": "quantitative"},
            "y2": {"field": "c"},
            "color": {"condition": {"test": "datum.c >= datum.o", "value": "#55c35c"}, "value": "#d9364a"}
          }
        },
        {
          "data": {"name": "trend"},
          "mark": {"type": "line", "color": "#f2e03c", "strokeWidth": 1.5},
          "encoding": {
            "x": {"field": "d", "type": "temporal", "title": null},
            "y": {"field": "p", "type": "quantitative"},
            "detail": {"field": "g"}
          }
        },
        {
          "data": {"name": "arrow"},
          "transform": [{"filter": "datum.g == 'curve'"}],
          "mark": {"type": "line", "color": "#f2e03c", "strokeWidth": 1.5, "interpolate": "monotone"},
          "encoding": {
            "x": {"field": "d", "type": "temporal", "title": null},
            "y": {"field": "p", "type": "quantitative"}
          }
        },
        {
          "data": {"name": "arrow"},
          "transform": [{"filter": "datum.g == 'head'"}],
          "mark": {"type": "line", "color": "#f2e03c", "strokeWidth": 1.5},
          "encoding": {
            "x": {"field": "d", "type": "temporal", "title": null},
            "y": {"field": "p", "type": "quantitative"}
          }
        },
        {
          "data": {"name": "one"},
          "mark": {"type": "text", "text": "LQTY / TetherUS · 2D · Binance", "align": "left", "baseline": "middle", "fontSize": 11, "color": "#d1d4dc"},
          "encoding": {
            "x": {"datum": {"year": 2025, "month": 2, "date": 2, "utc": true}, "type": "temporal"},
            "y": {"datum": 1.898, "type": "quantitative"}
          }
        },
        {
          "data": {"name": "one"},
          "mark": {"type": "text", "text": "SMA", "align": "left", "baseline": "middle", "fontSize": 10, "color": "#b2b5be"},
          "encoding": {
            "x": {"datum": {"year": 2025, "month": 2, "date": 2, "utc": true}, "type": "temporal"},
            "y": {"datum": 1.75, "type": "quantitative"}
          }
        },
        {
          "data": {"name": "one"},
          "mark": {"type": "text", "text": "Vol · LQTY", "align": "left", "baseline": "middle", "fontSize": 10, "color": "#b2b5be"},
          "encoding": {
            "x": {"datum": {"year": 2025, "month": 2, "date": 2, "utc": true}, "type": "temporal"},
            "y": {"datum": 1.6, "type": "quantitative"}
          }
        },
        {
          "data": {"name": "levels"},
          "mark": {"type": "point", "shape": "M-1,-0.4H1V0.4H-1Z", "size": 900, "filled": true, "color": "#f5e13f", "opacity": 1},
          "encoding": {
            "x": {"datum": {"year": 2026, "month": 12, "date": 17, "utc": true}, "type": "temporal"},
            "y": {"field": "p", "type": "quantitative"}
          }
        },
        {
          "data": {"name": "levels"},
          "mark": {"type": "text", "align": "center", "baseline": "middle", "fontSize": 9.5, "color": "#000000"},
          "encoding": {
            "x": {"datum": {"year": 2026, "month": 12, "date": 17, "utc": true}, "type": "temporal"},
            "y": {"field": "p", "type": "quantitative"},
            "text": {"field": "t"}
          }
        },
        {
          "data": {"name": "one"},
          "mark": {"type": "point", "shape": "M-1,-0.525H1V0.525H-1Z", "size": 1600, "filled": true, "color": "#4caf50", "opacity": 1},
          "encoding": {
            "x": {"datum": {"year": 2026, "month": 12, "date": 21, "utc": true}, "type": "temporal"},
            "y": {"datum": 0.2685, "type": "quantitative"}
          }
        },
        {
          "data": {"name": "one"},
          "mark": {"type": "text", "text": "0.280", "align": "left", "baseline": "middle", "fontSize": 9, "color": "#ffffff"},
          "encoding": {
            "x": {"datum": {"year": 2026, "month": 12, "date": 11, "utc": true}, "type": "temporal"},
            "y": {"datum": 0.2772, "type": "quantitative"}
          }
        },
        {
          "data": {"name": "one"},
          "mark": {"type": "text", "text": "11:02:05", "align": "left", "baseline": "middle", "fontSize": 9, "color": "#ffffff"},
          "encoding": {
            "x": {"datum": {"year": 2026, "month": 12, "date": 11, "utc": true}, "type": "temporal"},
            "y": {"datum": 0.2575, "type": "quantitative"}
          }
        },
        {
          "data": {"name": "one"},
          "mark": {"type": "point", "shape": "M-1,-0.571H1V0.571H-1Z", "size": 784, "filled": true, "color": "#131722", "stroke": "#434651", "strokeWidth": 1, "opacity": 1},
          "encoding": {
            "x": {"datum": {"year": 2026, "month": 12, "date": 19, "utc": true}, "type": "temporal"},
            "y": {"datum": 1.898, "type": "quantitative"}
          }
        },
        {
          "data": {"name": "one"},
          "mark": {"type": "text", "text": "USDT", "align": "center", "baseline": "middle", "fontSize": 9.5, "color": "#d1d4dc"},
          "encoding": {
            "x": {"datum": {"year": 2026, "month": 12, "date": 19, "utc": true}, "type": "temporal"},
            "y": {"datum": 1.898, "type": "quantitative"}
          }
        }
      ]
    },
    {
      "layer": [
        {
          "data": {"name": "one"},
          "mark": {"type": "rect", "color": "#7e57c2", "opacity": 0.1},
          "encoding": {
            "y": {"datum": 70, "type": "quantitative", "scale": {"type": "log", "domain": [21.5, 82], "range": [533, 432], "nice": false}, "axis": null},
            "y2": {"datum": 30}
          }
        },
        {
          "data": {"values": [{"r": 70}, {"r": 50}, {"r": 30}]},
          "mark": {"type": "rule", "color": "#8a8d96", "strokeDash": [4, 4], "strokeWidth": 1, "opacity": 0.8},
          "encoding": {"y": {"field": "r", "type": "quantitative", "axis": null}}
        },
        {
          "data": {"name": "rsi"},
          "mark": {"type": "line", "color": "#7e57c2", "strokeWidth": 1},
          "encoding": {
            "x": {"field": "d", "type": "temporal", "title": null, "axis": {"labelFlush": false, "labelBound": false, "labelAlign": "center"}},
            "y": {"field": "r", "type": "quantitative", "axis": null}
          }
        },
        {
          "data": {"name": "one"},
          "mark": {"type": "text", "text": "RSI", "align": "left", "baseline": "middle", "fontSize": 10, "color": "#b2b5be"},
          "encoding": {
            "x": {"datum": {"year": 2025, "month": 2, "date": 2, "utc": true}, "type": "temporal"},
            "y": {"datum": 72.8, "type": "quantitative", "axis": null}
          }
        },
        {
          "data": {"values": [{"r": 80}, {"r": 60}, {"r": 40}, {"r": 28}]},
          "mark": {"type": "text", "align": "left", "baseline": "middle", "fontSize": 9, "color": "#b2b5be"},
          "encoding": {
            "x": {"datum": {"year": 2026, "month": 12, "date": 11, "utc": true}, "type": "temporal"},
            "y": {"field": "r", "type": "quantitative", "axis": null},
            "text": {"field": "r", "type": "quantitative", "format": ".2f"}
          }
        }
      ]
    }
  ],
  "resolve": {"scale": {"y": "independent"}}
}
